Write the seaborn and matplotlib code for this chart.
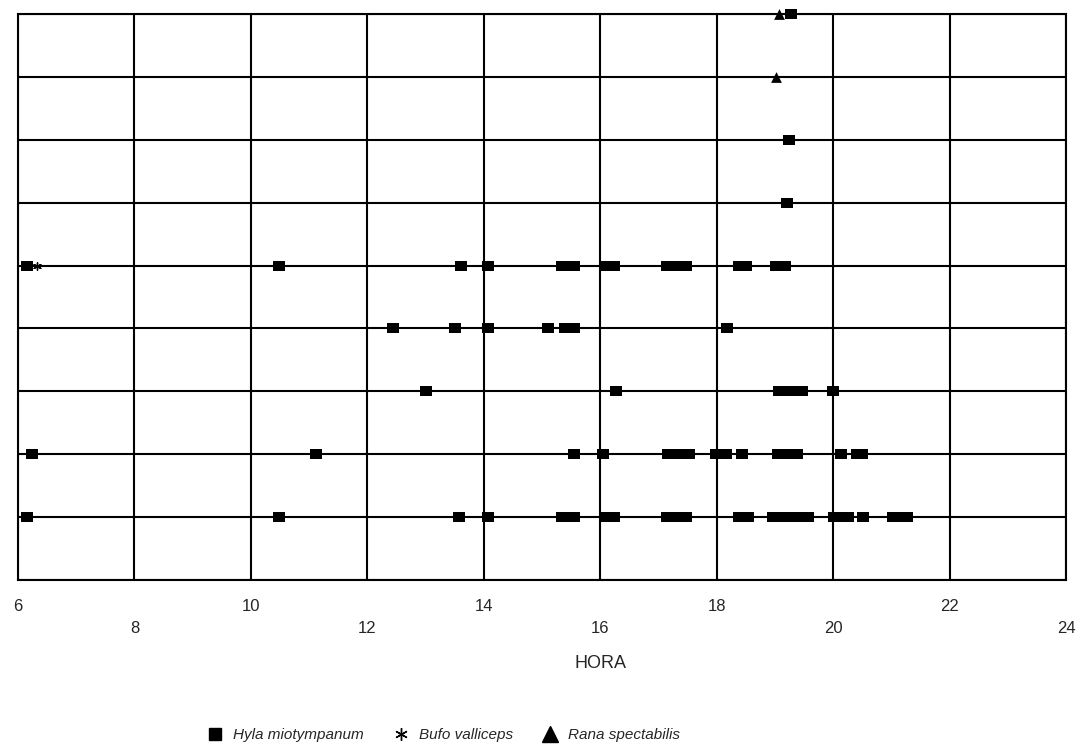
import pandas as pd
import seaborn as sns
import matplotlib.pyplot as plt
from matplotlib.lines import Line2D

# Horas (decimales) de cada registro, por fila (de abajo hacia arriba)
fila_1 = [6.16, 10.48, 13.58, 14.08, 15.35, 15.55, 16.09, 16.23, 17.14, 17.31, 17.47,
          18.38, 18.53, 18.96, 19.12, 19.26, 19.42, 19.57, 20.01, 20.13, 20.25, 20.52,
          21.03, 21.15, 21.27]
fila_2 = [6.24, 11.12, 15.55, 16.05, 17.16, 17.37, 17.53, 17.98, 18.16, 18.44,
          19.05, 19.21, 19.38, 20.13, 20.41, 20.50]
fila_3 = [13.01, 16.27, 19.07, 19.21, 19.35, 19.46, 20.00]
fila_4 = [12.44, 13.51, 14.08, 15.11, 15.39, 15.55, 18.18]
fila_5 = [6.15, 10.48, 13.60, 14.07, 15.35, 15.55, 16.08, 16.23, 17.14, 17.31, 17.47,
          18.39, 18.51, 19.01, 19.09, 19.18]
fila_6 = [19.21]
fila_7 = [19.25]
fila_9 = [19.27]

bufo_hora = [6.33]
bufo_fila = [5]
rana_hora = [19.02, 19.07]
rana_fila = [8, 9]

especies = ['Hyla miotympanum', 'Bufo valliceps', 'Rana spectabilis']
xticks = list(range(6, 25, 2))

# armar tabla larga
filas = {1: fila_1, 2: fila_2, 3: fila_3, 4: fila_4, 5: fila_5, 6: fila_6, 7: fila_7, 9: fila_9}
registros = []
for f, horas in filas.items():
    for h in horas:
        registros.append((h, f, especies[0]))
for h, f in zip(bufo_hora, bufo_fila):
    registros.append((h, f, especies[1]))
for h, f in zip(rana_hora, rana_fila):
    registros.append((h, f, especies[2]))
df = pd.DataFrame(registros, columns=['hora', 'fila', 'especie'])

sns.set_style('white')
plt.rcParams['font.family'] = ['Liberation Sans Narrow', 'Liberation Sans', 'DejaVu Sans']

rect = [(-1, -0.8), (1, -0.8), (1, 0.8), (-1, 0.8), (-1, -0.8)]

fig = plt.figure(figsize=(10.79, 7.48), dpi=100)
ax = fig.add_axes([0.0167, 0.2246, 0.9713, 0.7567])

sns.scatterplot(data=df[df.especie == especies[0]], x='hora', y='fila', marker=rect,
                color='black', s=72, linewidth=0, ax=ax, legend=False, clip_on=False, zorder=3)
sns.scatterplot(data=df[df.especie == especies[1]], x='hora', y='fila', marker=(6, 2, 0),
                color='black', s=30, linewidth=1.0, ax=ax, legend=False, clip_on=False, zorder=3)
sns.scatterplot(data=df[df.especie == especies[2]], x='hora', y='fila', marker='^',
                color='black', s=60, linewidth=0, ax=ax, legend=False, clip_on=False, zorder=3)

ax.set_xlim(6, 24)
ax.set_ylim(0, 9)
ax.set_xticks(xticks)
ax.set_xticklabels([str(t) if i % 2 == 0 else '\n' + str(t) for i, t in enumerate(xticks)],
                   fontsize=12, linespacing=1.55)
ax.set_yticks(range(0, 10))
ax.set_yticklabels([])
ax.grid(True, color='black', linewidth=1.5)
ax.tick_params(axis='x', direction='out', length=6, width=1.5, color='black', pad=8)
ax.tick_params(axis='y', direction='out', length=3, width=1.5, color='black')
for sp in ax.spines.values():
    sp.set_visible(True)
    sp.set_color('black')
    sp.set_linewidth(1.5)
ax.set_xlabel('')
ax.set_ylabel('')

fig.text(600 / 1079, 1 - 663 / 748, 'HORA', ha='center', va='center', fontsize=13)

handles = [
    Line2D([], [], marker='s', color='black', linestyle='', markersize=9),
    Line2D([], [], marker=(6, 2, 0), color='black', linestyle='', markersize=9,
           markeredgewidth=1.0),
    Line2D([], [], marker='^', color='black', linestyle='', markersize=12),
]
leg = fig.legend(handles, especies, loc='center', bbox_to_anchor=(443 / 1079, 1 - 735 / 748),
                 ncol=3, frameon=False, columnspacing=1.8, handlelength=1.2,
                 handletextpad=0.6, prop={'style': 'italic', 'size': 11})

fig.savefig('out.png', dpi=100)
